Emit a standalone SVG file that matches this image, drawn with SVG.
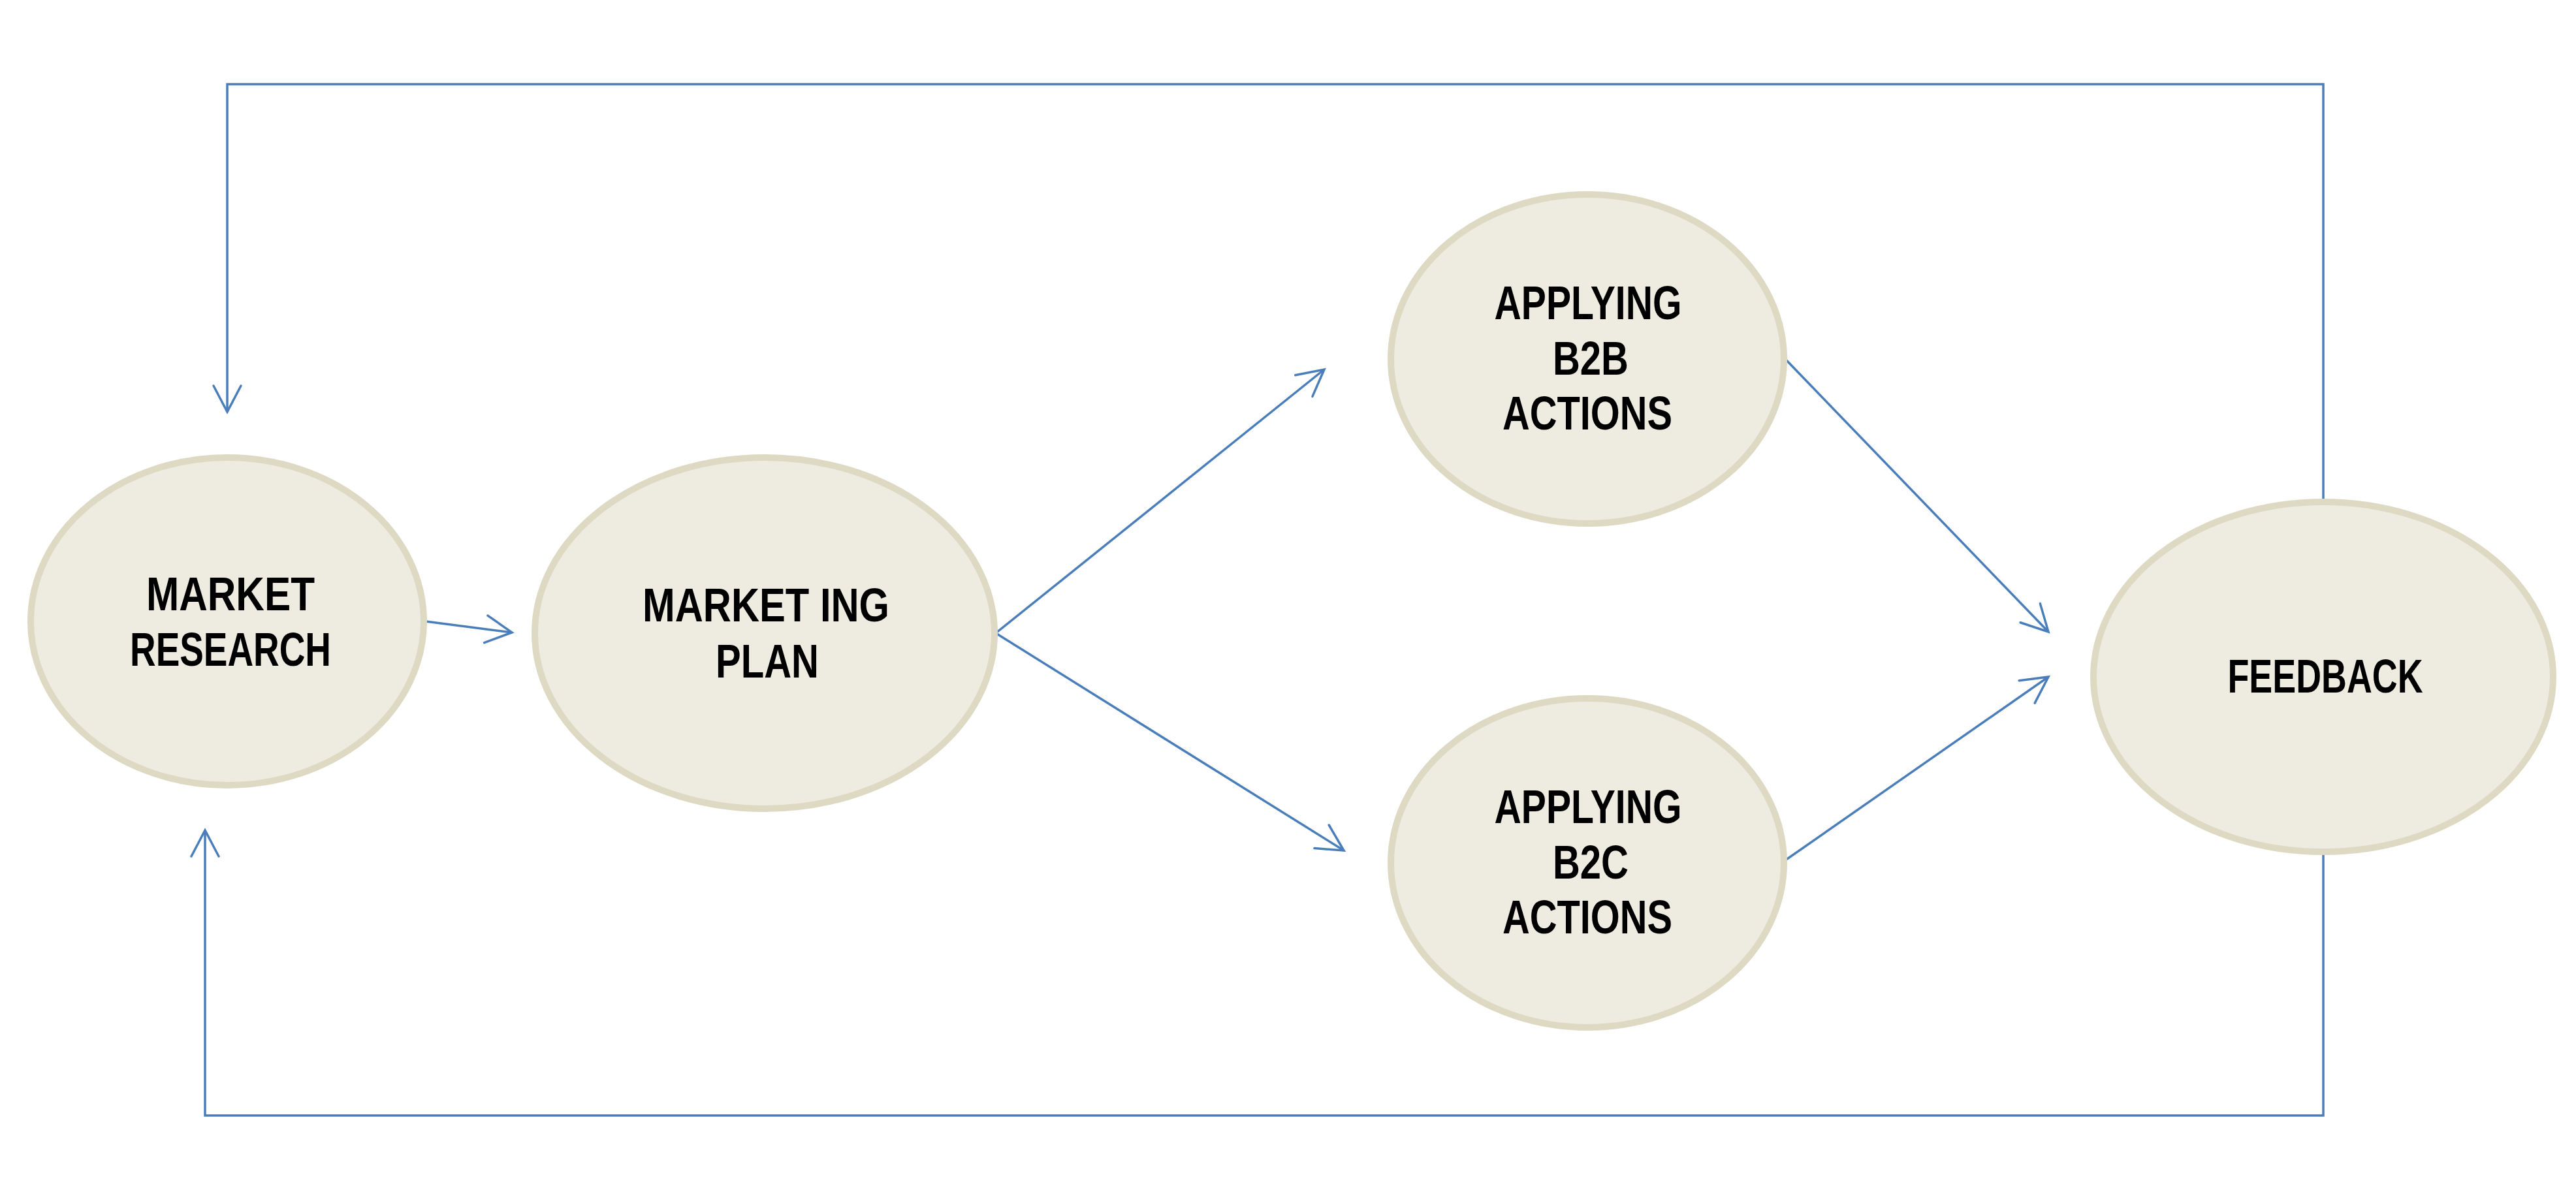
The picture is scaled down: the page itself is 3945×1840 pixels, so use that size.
<svg xmlns="http://www.w3.org/2000/svg" width="3945" height="1840" viewBox="0 0 3945 1840">
<style>
.node ellipse{fill:#EEECE1;stroke:#DDD9C3;stroke-width:10}
.node text{font-family:"Liberation Sans",Arial,sans-serif;font-weight:bold;font-size:72px;fill:#000;text-anchor:middle}
.conn{fill:none;stroke:#4A7EBB;stroke-width:3.5;stroke-linejoin:miter}
</style>
<defs>
<marker id="arr" markerUnits="userSpaceOnUse" viewBox="-50 -30 60 60" refX="0" refY="0" markerWidth="60" markerHeight="60" orient="auto" overflow="visible">
<path d="M-40,-21 L0,0 L-40,21" fill="none" stroke="#4A7EBB" stroke-width="3.5" stroke-linecap="round" stroke-linejoin="miter"/>
</marker>
</defs>
<rect width="3945" height="1840" fill="#FFFFFF"/>
<g id="connectors">
<polyline class="conn" points="3558,767 3558,129 348,129 348,631" marker-end="url(#arr)"/>
<polyline class="conn" points="3558,1306 3558,1709 314,1709 314,1272" marker-end="url(#arr)"/>
<line class="conn" x1="652" y1="952" x2="784" y2="969" marker-end="url(#arr)"/>
<line class="conn" x1="1525" y1="970" x2="2028" y2="566" marker-end="url(#arr)"/>
<line class="conn" x1="1525" y1="970" x2="2058" y2="1303" marker-end="url(#arr)"/>
<line class="conn" x1="2734" y1="550" x2="3137" y2="968" marker-end="url(#arr)"/>
<line class="conn" x1="2734" y1="1318" x2="3137" y2="1037" marker-end="url(#arr)"/>
</g>
<g id="market-research" class="node">
<ellipse cx="348" cy="952" rx="301" ry="251"/>
<text x="353" y="935" textLength="258" lengthAdjust="spacingAndGlyphs">MARKET</text>
<text x="353" y="1020" textLength="308" lengthAdjust="spacingAndGlyphs">RESEARCH</text>
</g>
<g id="marketing-plan" class="node">
<ellipse cx="1171" cy="970" rx="352" ry="269"/>
<text x="1173" y="952" textLength="378" lengthAdjust="spacingAndGlyphs">MARKET ING</text>
<text x="1175" y="1038" textLength="158" lengthAdjust="spacingAndGlyphs">PLAN</text>
</g>
<g id="b2b" class="node">
<ellipse cx="2431" cy="550" rx="301" ry="252"/>
<text x="2432" y="489" textLength="287" lengthAdjust="spacingAndGlyphs">APPLYING</text>
<text x="2436" y="574" textLength="116" lengthAdjust="spacingAndGlyphs">B2B</text>
<text x="2431" y="658" textLength="260" lengthAdjust="spacingAndGlyphs">ACTIONS</text>
</g>
<g id="b2c" class="node">
<ellipse cx="2431" cy="1322" rx="301" ry="252"/>
<text x="2432" y="1261" textLength="287" lengthAdjust="spacingAndGlyphs">APPLYING</text>
<text x="2436" y="1346" textLength="116" lengthAdjust="spacingAndGlyphs">B2C</text>
<text x="2431" y="1430" textLength="260" lengthAdjust="spacingAndGlyphs">ACTIONS</text>
</g>
<g id="feedback" class="node">
<ellipse cx="3558" cy="1037" rx="352" ry="268"/>
<text x="3561" y="1061" textLength="299" lengthAdjust="spacingAndGlyphs">FEEDBACK</text>
</g>
</svg>
